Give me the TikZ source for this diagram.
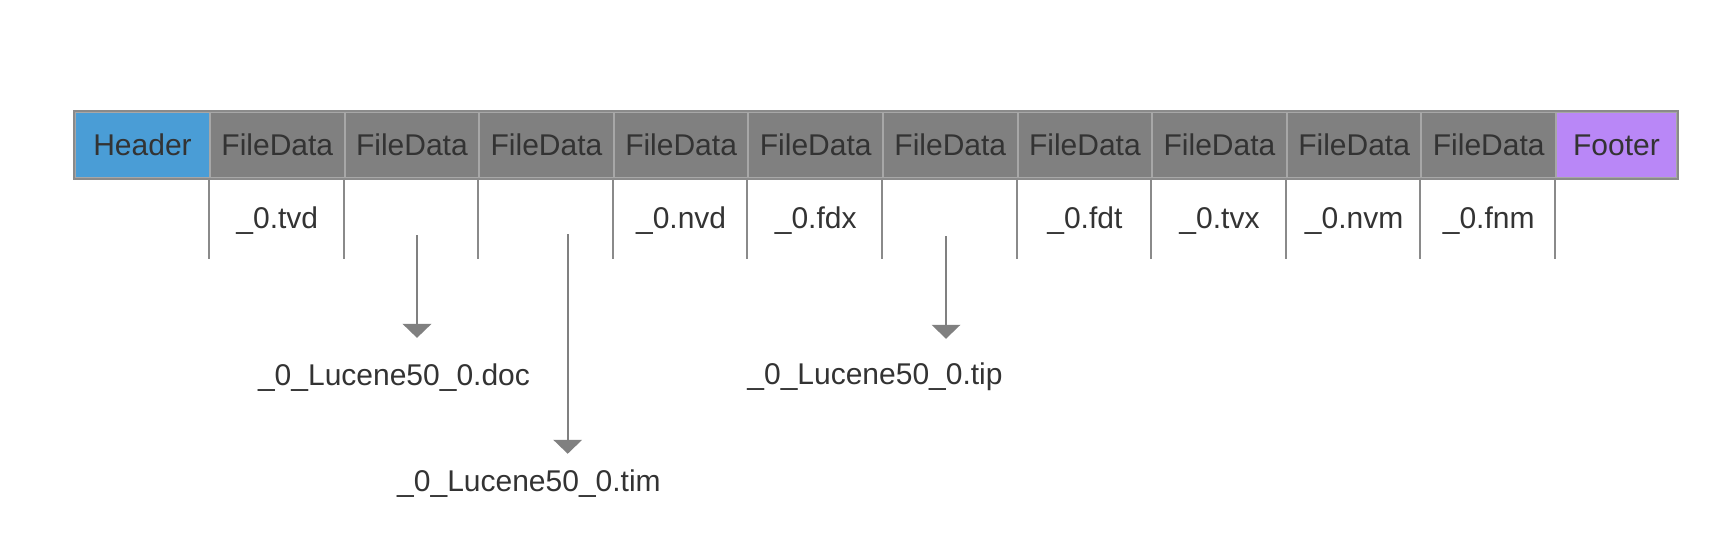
\documentclass[tikz,border=0pt]{standalone}
\usepackage{fontspec}
\setmainfont{Liberation Sans}
\usetikzlibrary{arrows.meta,positioning}

\definecolor{hdrblue}{HTML}{4A9DD6}
\definecolor{datagray}{HTML}{808080}
\definecolor{ftrpurple}{HTML}{B987F7}
\definecolor{inkgray}{HTML}{333333}
\definecolor{rulegray}{HTML}{8A8A8A}

\tikzset{every path/.style={line width=1pt}}
\tikzset{cell/.style={draw=rulegray!75, minimum height=33pt, minimum width=67.3pt,
    inner sep=0pt, text=inkgray, font=\fontsize{15pt}{18pt}\selectfont}}
\tikzset{fname/.style={anchor=base, inner sep=0pt, text=inkgray,
    font=\fontsize{15pt}{18pt}\selectfont}}

\begin{document}
\begin{tikzpicture}[x=0.5pt,y=-0.5pt]
    \useasboundingbox (0,0) rectangle (1718,542);
    \node[cell,fill=hdrblue,minimum width=67.5pt] (hdr) at (142.5,145) {Header};
    \foreach \i in {1,...,10}
      \node[cell,fill=datagray] (f\i) at ({210+(\i-0.5)*134.6},145) {FileData};
    \node[cell,fill=ftrpurple,minimum width=60.5pt] (ftr) at (1616.5,145) {Footer};
    \draw[rulegray] (hdr.north west) rectangle (ftr.south east);
    \foreach \i in {1,...,10}
      \draw[rulegray] (f\i.south west) -- ++(0,80);
    \draw[rulegray] (ftr.south west) -- ++(0,80);
    \foreach \i/\ext in {1/tvd,4/nvd,5/fdx,7/fdt,8/tvx,9/nvm,10/fnm}
      \node[fname] (n\i) at (f\i |- 0,228.3) {\_0.\ext};
    \node[fname] (doc) at (394,385) {\_0\_Lucene50\_0.doc};
    \node[fname] (tim) at (529,491.5) {\_0\_Lucene50\_0.tim};
    \node[fname] (tip) at (875,384.5) {\_0\_Lucene50\_0.tip};
    \coordinate (d) at (417,235);
    \coordinate (t) at (567.7,234);
    \coordinate (p) at (946,236);
    \path[color=datagray, -{Triangle[width=14.3pt,length=7pt]}, shorten >=12.2pt]
    (d) edge (d |- doc.north);
    \path[color=datagray, -{Triangle[width=14.3pt,length=7pt]}, shorten >=7.5pt]
    (t) edge (t |- tim.north);
    \path[color=datagray, -{Triangle[width=14.3pt,length=7pt]}, shorten >=11.5pt]
    (p) edge (p |- tip.north);
  \end{tikzpicture}
\end{document}
